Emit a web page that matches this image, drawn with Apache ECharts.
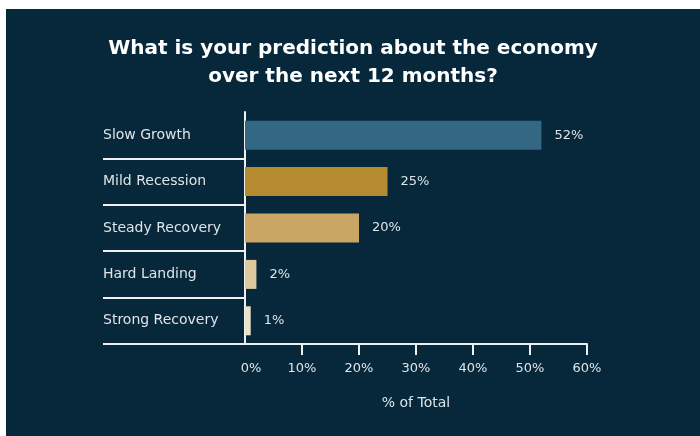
<!DOCTYPE html>
<html>
<head>
<meta charset="utf-8">
<script src="https://cdn.jsdelivr.net/npm/echarts@6/dist/echarts.min.js"></script>
<style>
  html, body { margin: 0; padding: 0; background: #ffffff; }
  #chart { position: absolute; left: 6px; top: 9px; width: 694px; height: 427px; }
</style>
</head>
<body>
<div id="chart"></div>
<script>
// Survey answers, top to bottom
const categories = ['Slow Growth', 'Mild Recession', 'Steady Recovery', 'Hard Landing', 'Strong Recovery'];
// Share of respondents (% of total)
const shares = [52, 25, 20, 2, 1];
const barColors = ['#336882', '#b58b30', '#c9a664', '#dfc89d', '#efe1c9'];
// Value axis range and tick marks
const axisMin = 0;
const axisMax = 60;
const axisStep = 10;
const tickMarks = [10, 20, 30, 40, 50, 60];

const FONT = '"DejaVu Sans", Inter, sans-serif';
const LINE = '#eef0f2';
const TEXT = '#dfe4e8';

const chart = echarts.init(document.getElementById('chart'));
chart.setOption({
  backgroundColor: '#06283a',
  animation: false,
  title: {
    text: 'What is your prediction about the economy\nover the next 12 months?',
    left: 'center',
    top: 21,
    padding: [5, 5, 5, 11],
    textStyle: {
      color: '#ffffff',
      fontFamily: FONT,
      fontWeight: 'bold',
      fontSize: 20,
      lineHeight: 28
    }
  },
  grid: { left: 239, right: 113, top: 103, bottom: 92, containLabel: false },
  xAxis: {
    type: 'value',
    min: axisMin,
    max: axisMax,
    interval: axisStep,
    name: '% of Total',
    nameLocation: 'middle',
    nameGap: 52,
    nameTextStyle: { color: TEXT, fontFamily: FONT, fontSize: 14 },
    axisLine: { show: true, lineStyle: { color: LINE, width: 2 } },
    axisTick: { show: true, length: 11, customValues: tickMarks, lineStyle: { color: LINE, width: 2 } },
    axisLabel: {
      color: TEXT, fontFamily: FONT, fontSize: 13, margin: 18,
      // the zero label sits a little clear of the vertical axis line
      formatter: v => (v === axisMin ? '{z|' + v + '%}' : v + '%'),
      rich: { z: { padding: [0, 0, 0, 12], color: TEXT, fontFamily: FONT, fontSize: 13 } }
    },
    splitLine: { show: false }
  },
  yAxis: {
    type: 'category',
    data: categories,
    inverse: true,
    axisLine: { show: true, lineStyle: { color: LINE, width: 2 } },
    axisTick: {
      show: true,
      length: 142,
      interval: (idx) => idx !== 0,
      lineStyle: { color: LINE, width: 2 }
    },
    axisLabel: { color: TEXT, fontFamily: FONT, fontSize: 14, align: 'left', margin: 142 }
  },
  series: [{
    type: 'bar',
    barWidth: 29,
    data: shares.map((v, i) => ({ value: v, itemStyle: { color: barColors[i] } })),
    label: {
      show: true,
      position: 'right',
      distance: 13,
      color: TEXT,
      fontFamily: FONT,
      fontSize: 13,
      formatter: p => p.value + '%'
    }
  }]
});
</script>
</body>
</html>
